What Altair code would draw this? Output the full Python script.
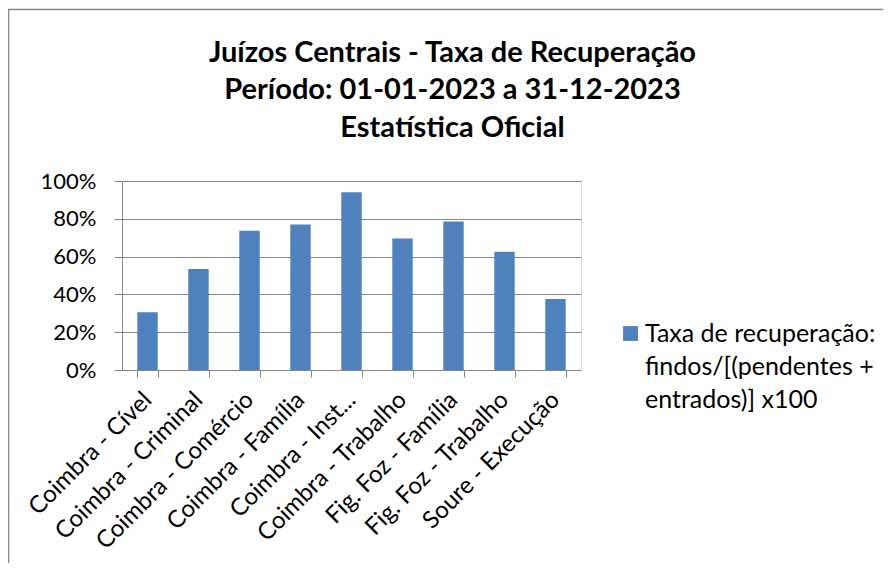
import altair as alt
import pandas as pd

categories = ["Coimbra - Cível", "Coimbra - Criminal", "Coimbra - Comércio",
              "Coimbra - Família", "Coimbra - Inst...", "Coimbra - Trabalho",
              "Fig. Foz - Família", "Fig. Foz - Trabalho", "Soure - Execução"]
values = [0.305, 0.534, 0.737, 0.770, 0.940, 0.696, 0.786, 0.626, 0.376]
series_lines = ["Taxa de recuperação:", "findos/[(pendentes +", "entrados)] x100"]
title_lines = ["Juízos Centrais - Taxa de Recuperação",
               "Período: 01-01-2023 a 31-12-2023",
               "Estatística Oficial"]
y_ticks = [0, 0.2, 0.4, 0.6, 0.8, 1.0]

series_name = "\n".join(series_lines)
df = pd.DataFrame({"categoria": categories, "taxa": values,
                   "serie": [series_name] * len(categories)})

GRAY = "#868686"
FONT = "Lato"
W, H = 459, 189
PL, PT = 114, 173

bars = alt.Chart(df).mark_bar(color="#4F81BD").encode(
    x=alt.X("categoria:N", sort=categories, title=None,
            scale=alt.Scale(paddingInner=0.6, paddingOuter=0.3),
            axis=alt.Axis(labelAngle=-45, labelAlign="right", labelBaseline="middle",
                          labelFont=FONT, labelFontSize=24, labelColor="black",
                          labelPadding=19, labelLimit=0,
                          tickBand="extent", tickSize=7, tickColor=GRAY,
                          domainColor=GRAY, grid=False)),
    y=alt.Y("taxa:Q", title=None,
            scale=alt.Scale(domain=[0, 1]),
            axis=alt.Axis(values=y_ticks, format=".0%", labelFont=FONT,
                          labelFontSize=22, labelColor="black", labelPadding=18,
                          tickSize=8, tickColor=GRAY, domainColor=GRAY,
                          gridColor=GRAY, gridOpacity=1)),
    color=alt.Color("serie:N", scale=alt.Scale(range=["#4F81BD"]),
                    legend=alt.Legend(title=None, orient="none",
                                      legendX=496, legendY=140,
                                      symbolType="square", symbolSize=220,
                                      symbolStrokeWidth=0, symbolOpacity=1,
                                      labelFont=FONT, labelFontSize=25,
                                      labelColor="black", labelLimit=0,
                                      labelOffset=2, padding=0,
                                      labelExpr="split(datum.label, '\\n')")),
)

frame = alt.Chart(pd.DataFrame({"a": [0]})).mark_rect(
    fillOpacity=0, stroke=GRAY, strokeWidth=1.5
).encode(x=alt.value(-PL + 0.5), y=alt.value(-PT + 1.5),
         x2=alt.value(3000), y2=alt.value(3000))

chart = alt.layer(frame, bars).properties(
    width=W, height=H,
    autosize=alt.AutoSizeParams(type="none"),
    padding={"left": PL, "top": PT, "right": 875 - PL - W, "bottom": 555 - PT - H},
    title=alt.TitleParams(text=title_lines, font=FONT, fontSize=29,
                          fontWeight="bold", color="black", lineHeight=37.5,
                          anchor="middle", frame="group", dx=101, dy=134, offset=0),
).configure_view(strokeWidth=0).configure(style={"guide-label": {"lineHeight": 33}})

chart.save("out.html", embed_options={"renderer": "svg", "actions": False})
